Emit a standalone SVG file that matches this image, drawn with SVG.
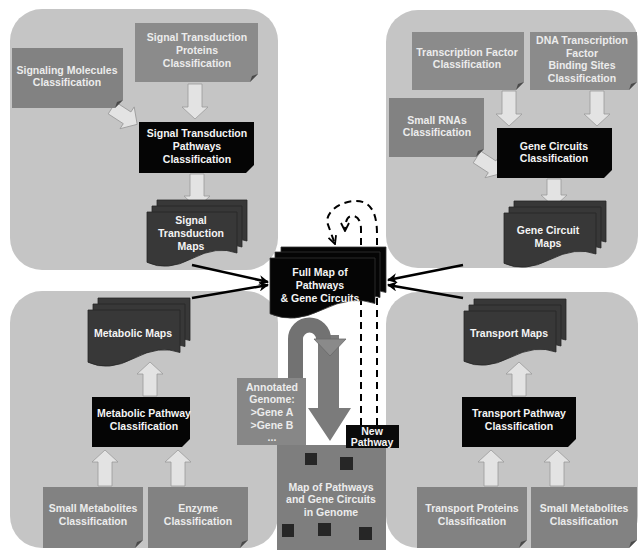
<svg xmlns="http://www.w3.org/2000/svg" width="639" height="550" viewBox="0 0 639 550">
<style>
text{font-family:"Liberation Sans",Arial,sans-serif;font-weight:bold;font-size:10.5px;text-anchor:middle}
.lt{fill:#ececec}
.wt{fill:#f4f4f4}
.panel{fill:#c5c5c5}
.note{fill:#828282}
.note2{fill:#8b8b8b}
.blk{fill:#050505}
.fold{fill:#4a4a4a}
.barrow{fill:#e3e3e3;stroke:#9a9a9a;stroke-width:0.8}
.bline{stroke:#000;stroke-width:2.5;fill:none;marker-end:url(#ah)}
.dash{stroke:#000;stroke-width:2;fill:none;stroke-dasharray:7 5;marker-end:url(#oh)}
.sq{fill:#262626}
.map{fill:#383838;stroke:#262626;stroke-width:0.8}
.fmap{fill:#050505;stroke:#333;stroke-width:0.8}
</style>
<defs>
<marker id="ah" viewBox="0 0 10 10" refX="9" refY="5" markerWidth="11" markerHeight="10" markerUnits="userSpaceOnUse" orient="auto"><path d="M0,0 L10,5 L0,10 L3,5 z" fill="#000"/></marker>
<marker id="oh" viewBox="0 0 10 10" refX="9" refY="5" markerWidth="10" markerHeight="10" markerUnits="userSpaceOnUse" orient="auto"><path d="M1,1 L9,5 L1,9" fill="none" stroke="#000" stroke-width="1.8"/></marker>
<polygon id="diag" points="0,-7 18,-7 18,-13 30,0 18,13 18,7 0,7"/>
</defs>
<rect width="639" height="550" fill="#fff"/>
<g id="panels">
<rect class="panel" x="10" y="9" width="268" height="261" rx="32"/>
<rect class="panel" x="386" y="10" width="252" height="258" rx="32"/>
<rect class="panel" x="10" y="291" width="268" height="257" rx="32"/>
<rect class="panel" x="386" y="292" width="252" height="256" rx="32"/>
</g>
<g id="connectors">
<polygon class="barrow" points="188,84 202,84 202,107 208,107 195,119 182,107 188,107"/>
<use href="#diag" class="barrow" transform="translate(112,108) rotate(33)"/>
<polygon class="barrow" points="190,174 204,174 204,196 210,196 197,208 184,196 190,196"/>
<polygon class="barrow" points="502,91 516,91 516,114 522,114 509,126 496,114 502,114"/>
<polygon class="barrow" points="590,91 604,91 604,114 610,114 597,126 584,114 590,114"/>
<use href="#diag" class="barrow" transform="translate(477,157) rotate(33)"/>
<polygon class="barrow" points="547,179 561,179 561,195 567,195 554,207 541,195 547,195"/>
<polygon class="barrow" points="143,396 157,396 157,374 163,374 150,362 137,374 143,374"/>
<polygon class="barrow" points="98,486 112,486 112,462 118,462 105,450 92,462 98,462"/>
<polygon class="barrow" points="171,486 185,486 185,462 191,462 178,450 165,462 171,462"/>
<polygon class="barrow" points="512,396 526,396 526,374 532,374 519,362 506,374 512,374"/>
<polygon class="barrow" points="484,486 498,486 498,462 504,462 491,450 478,462 484,462"/>
<polygon class="barrow" points="550,486 564,486 564,462 570,462 557,450 544,462 550,462"/>
<line class="bline" x1="192" y1="265" x2="268" y2="282"/>
<line class="bline" x1="192" y1="298" x2="268" y2="285"/>
<line class="bline" x1="463" y1="265" x2="388" y2="280"/>
<line class="bline" x1="463" y1="298" x2="388" y2="285"/>
<polygon points="318,335 339,335 339,408 351,408 330,441 308,408 318,408" fill="#7b7b7b"/>
<path d="M295.5,385 V339 A14,14 0 0 1 323.5,339" fill="none" stroke="#727272" stroke-width="15"/>
<polygon points="314,339 346,339 330,356" fill="#8a8a8a" stroke="#6a6a6a" stroke-width="0.8"/>
<path class="dash" d="M377,425 V234 C377,206 366,201 356,201 C342,201 327,210 327,222 L335,244"/>
<path class="dash" d="M361,425 V229 C361,219 356,215 351,216 C347,217 345,222 345,231"/>
</g>
<g id="signaling-molecules">
<path class="note" d="M12,48 H123 V100 L115,108 H12 Z"/><polygon class="fold" points="115,108 123,100 117,102"/>
<text class="lt" x="67" y="74">Signaling Molecules</text><text class="lt" x="67" y="86">Classification</text>
</g>
<g id="signal-transduction-proteins">
<path class="note2" d="M135,23 H258 V74 L250,82 H135 Z"/><polygon class="fold" points="250,82 258,74 252,76"/>
<text class="lt" x="197" y="41">Signal Transduction</text><text class="lt" x="197" y="54">Proteins</text><text class="lt" x="197" y="67">Classification</text>
</g>
<g id="signal-transduction-pathways">
<path class="blk" d="M139,122 H254 V165 L246,173 H139 Z"/>
<text class="wt" x="197" y="137">Signal Transduction</text><text class="wt" x="197" y="150">Pathways</text><text class="wt" x="197" y="163">Classification</text>
</g>
<g id="signal-transduction-maps">
<path class="map" d="M157,200 h90 v41 q-20,-7.5 -45,5.6 t-45,3.7 z"/>
<path class="map" d="M152,206 h90 v41 q-20,-7.5 -45,5.6 t-45,3.7 z"/>
<path class="map" d="M147,212 h90 v41 q-20,-7.5 -45,5.6 t-45,3.7 z"/>
<text class="wt" x="191" y="224">Signal</text><text class="wt" x="191" y="237">Transduction</text><text class="wt" x="191" y="250">Maps</text>
</g>
<g id="transcription-factor">
<path class="note2" d="M412,32 H524 V82 L516,90 H412 Z"/><polygon class="fold" points="516,90 524,82 518,84"/>
<text class="lt" x="467" y="56">Transcription Factor</text><text class="lt" x="467" y="68">Classification</text>
</g>
<g id="dna-binding-sites">
<path class="note2" d="M530,32 H637 V82 L629,90 H530 Z"/><polygon class="fold" points="629,90 637,82 631,84"/>
<text class="lt" x="582" y="44">DNA Transcription</text><text class="lt" x="582" y="57">Factor</text><text class="lt" x="582" y="69">Binding Sites</text><text class="lt" x="582" y="82">Classification</text>
</g>
<g id="small-rnas">
<path class="note" d="M389,98 H484 V149 L476,157 H389 Z"/><polygon class="fold" points="476,157 484,149 478,151"/>
<text class="lt" x="437" y="124">Small RNAs</text><text class="lt" x="437" y="136">Classification</text>
</g>
<g id="gene-circuits">
<path class="blk" d="M497,128 H612 V170 L604,178 H497 Z"/>
<text class="wt" x="554" y="150">Gene Circuits</text><text class="wt" x="554" y="162">Classification</text>
</g>
<g id="gene-circuit-maps">
<path class="map" d="M514,201 h92 v41 q-20.2,-7.5 -46,5.6 t-46,3.7 z"/>
<path class="map" d="M509,207 h92 v41 q-20.2,-7.5 -46,5.6 t-46,3.7 z"/>
<path class="map" d="M504,213 h92 v41 q-20.2,-7.5 -46,5.6 t-46,3.7 z"/>
<text class="wt" x="548" y="234">Gene Circuit</text><text class="wt" x="548" y="247">Maps</text>
</g>
<g id="full-map">
<path class="fmap" d="M281,247 h105 v45.5 q-23,-8.3 -52.5,6.2 t-52.5,4.1 z"/>
<path class="fmap" d="M275,252 h105 v45.5 q-23,-8.3 -52.5,6.2 t-52.5,4.1 z"/>
<path class="fmap" d="M270,258 h105 v45.5 q-23,-8.3 -52.5,6.2 t-52.5,4.1 z"/>
<text class="wt" x="320" y="276">Full Map of</text><text class="wt" x="320" y="289">Pathways</text><text class="wt" x="320" y="302">&amp; Gene Circuits</text>
</g>
<g id="metabolic-maps">
<path class="map" d="M98,298 h92 v42.5 q-20.2,-7.7 -46,5.8 t-46,3.9 z"/>
<path class="map" d="M93,304 h92 v42.5 q-20.2,-7.7 -46,5.8 t-46,3.9 z"/>
<path class="map" d="M88,310 h92 v42.5 q-20.2,-7.7 -46,5.8 t-46,3.9 z"/>
<text class="wt" x="133" y="337">Metabolic Maps</text>
</g>
<g id="metabolic-pathway">
<path class="blk" d="M92,397 H190 V439 L182,447 H92 Z"/>
<text class="wt" x="144" y="417">Metabolic Pathway</text><text class="wt" x="144" y="430">Classification</text>
</g>
<g id="small-metabolites-left">
<path class="note" d="M43,487 H143 V540 L135,548 H43 Z"/><polygon class="fold" points="135,548 143,540 137,542"/>
<text class="lt" x="93" y="512">Small Metabolites</text><text class="lt" x="93" y="525">Classification</text>
</g>
<g id="enzyme">
<path class="note" d="M148,487 H248 V540 L240,548 H148 Z"/><polygon class="fold" points="240,548 248,540 242,542"/>
<text class="lt" x="198" y="512">Enzyme</text><text class="lt" x="198" y="525">Classification</text>
</g>
<g id="transport-maps">
<path class="map" d="M474,299 h92 v41 q-20.2,-7.5 -46,5.6 t-46,3.7 z"/>
<path class="map" d="M469,305 h92 v41 q-20.2,-7.5 -46,5.6 t-46,3.7 z"/>
<path class="map" d="M464,311 h92 v41 q-20.2,-7.5 -46,5.6 t-46,3.7 z"/>
<text class="wt" x="509" y="337">Transport Maps</text>
</g>
<g id="transport-pathway">
<path class="blk" d="M462,397 H576 V439 L568,447 H462 Z"/>
<text class="wt" x="519" y="417">Transport Pathway</text><text class="wt" x="519" y="430">Classification</text>
</g>
<g id="transport-proteins">
<path class="note" d="M417,487 H527 V540 L519,548 H417 Z"/><polygon class="fold" points="519,548 527,540 521,542"/>
<text class="lt" x="472" y="512">Transport Proteins</text><text class="lt" x="472" y="525">Classification</text>
</g>
<g id="small-metabolites-right">
<path class="note" d="M531,487 H637 V540 L629,548 H531 Z"/><polygon class="fold" points="629,548 637,540 631,542"/>
<text class="lt" x="584" y="512">Small Metabolites</text><text class="lt" x="584" y="525">Classification</text>
</g>
<g id="annotated-genome">
<rect x="237" y="378" width="69" height="67" fill="#878787"/>
<text class="lt" x="272" y="391">Annotated</text><text class="lt" x="272" y="403">Genome:</text><text class="lt" x="272" y="416">&gt;Gene A</text><text class="lt" x="272" y="429">&gt;Gene B</text><text class="lt" x="272" y="441">...</text>
</g>
<g id="genome-map">
<rect x="277" y="445" width="109" height="105" fill="#7e7e7e"/>
<rect class="sq" x="305" y="453" width="12" height="12"/>
<rect class="sq" x="340" y="457" width="13" height="13"/>
<rect class="sq" x="282" y="524" width="12" height="13"/>
<rect class="sq" x="318" y="523" width="13" height="13"/>
<rect class="sq" x="359" y="527" width="13" height="13"/>
<text class="lt" x="331" y="491">Map of Pathways</text><text class="lt" x="331" y="503">and Gene Circuits</text><text class="lt" x="331" y="516">in Genome</text>
</g>
<g id="new-pathway">
<rect x="346" y="425" width="53" height="23" fill="#0a0a0a"/>
<text class="wt" x="372" y="435">New</text><text class="wt" x="372" y="446">Pathway</text>
</g>
</svg>
